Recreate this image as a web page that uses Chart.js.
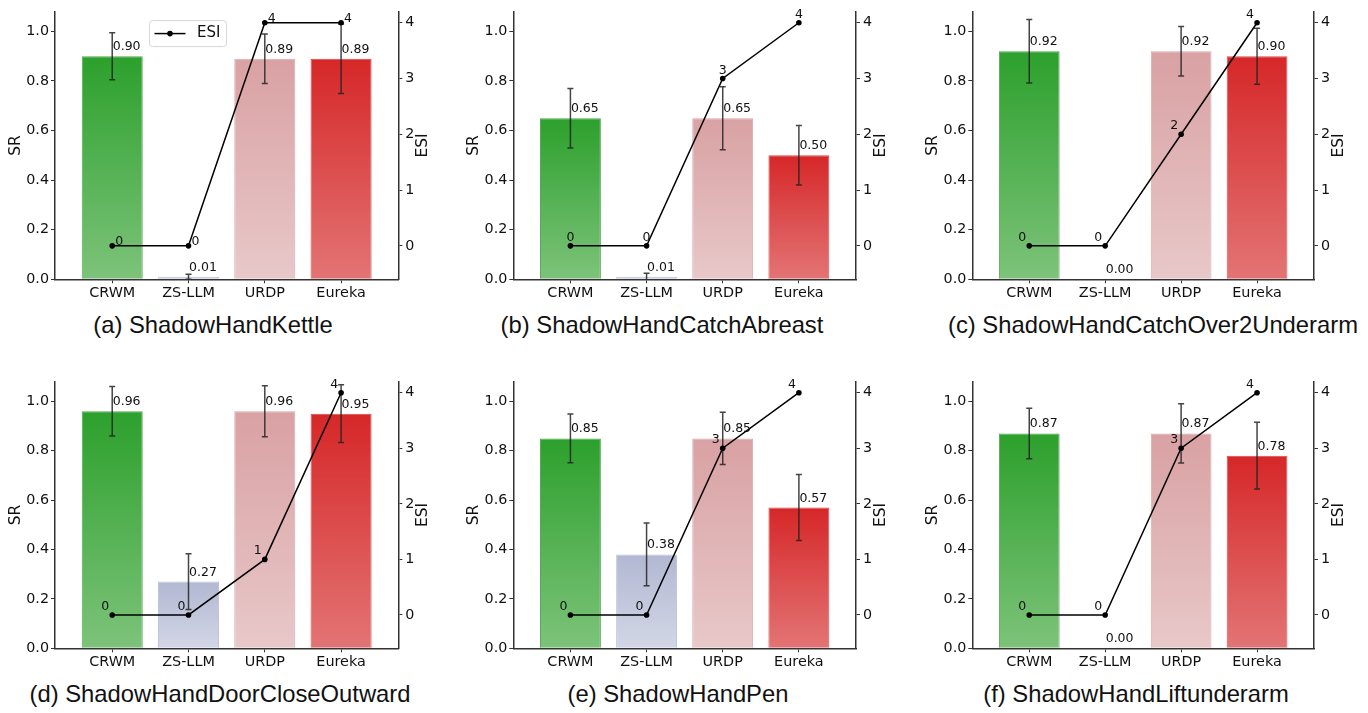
<!DOCTYPE html>
<html>
<head>
<meta charset="utf-8">
<script src="https://cdn.jsdelivr.net/npm/chart.js@4.4.1/dist/chart.umd.min.js"></script>
<style>
  html, body { margin: 0; padding: 0; background: #fff; }
  body { width: 1368px; height: 713px; position: relative; overflow: hidden; }
  canvas { position: absolute; }
  .caption {
    position: absolute;
    font-family: "Liberation Sans", Arial, sans-serif;
    font-size: 23.8px;
    line-height: 24px;
    color: #111;
    white-space: nowrap;
    transform: translateX(-50%);
  }
</style>
</head>
<body>
<script>
// ---- data ----
const methods = ["CRWM", "ZS-LLM", "URDP", "Eureka"];
const taskTitles = [
  "(a) ShadowHandKettle",
  "(b) ShadowHandCatchAbreast",
  "(c) ShadowHandCatchOver2Underarm",
  "(d) ShadowHandDoorCloseOutward",
  "(e) ShadowHandPen",
  "(f) ShadowHandLiftunderarm",
];
const srValues = [
  [0.90, 0.01, 0.89, 0.89],
  [0.65, 0.01, 0.65, 0.50],
  [0.92, 0.00, 0.92, 0.90],
  [0.96, 0.27, 0.96, 0.95],
  [0.85, 0.38, 0.85, 0.57],
  [0.87, 0.00, 0.87, 0.78],
];
const srErrors = [
  [0.095, 0.01, 0.10, 0.14],
  [0.12, 0.014, 0.127, 0.12],
  [0.128, 0, 0.10, 0.113],
  [0.10, 0.113, 0.103, 0.117],
  [0.099, 0.127, 0.106, 0.134],
  [0.102, 0, 0.12, 0.135],
];
const esiValues = [
  [0, 0, 4, 4],
  [0, 0, 3, 4],
  [0, 0, 2, 4],
  [0, 0, 1, 4],
  [0, 0, 3, 4],
  [0, 0, 3, 4],
];
const srTicks = [0, 0.2, 0.4, 0.6, 0.8, 1.0];
const esiTicks = [0, 1, 2, 3, 4];

// ---- styles / layout ----
const barTopColors = ["rgb(44,160,44)", "rgb(178,184,210)", "rgb(217,161,163)", "rgb(214,39,40)"];
const barBottomColors = ["rgb(125,195,122)", "rgb(210,214,230)", "rgb(232,200,201)", "rgb(227,116,116)"];
const barEdgeColors = ["rgba(40,140,40,0.8)", "rgba(150,156,190,0.6)", "rgba(200,130,132,0.7)", "rgba(200,30,30,0.8)"];
const esiLabelAlign = ["left", "center", "right", "right", "right", "right"];

const colLeft = [55, 513.3, 972.3];
const colRight = [398.3, 856, 1314];
const rowTop = [9, 378.3];
const rowBottom = [279.3, 648.3];
const captionX = [213, 662, 1153, 220, 678, 1136];
const captionY = [325, 694];

const spineColor = "#333";
Chart.defaults.font.family = "'DejaVu Sans', sans-serif";
Chart.defaults.font.size = 14.3;
Chart.defaults.color = "#111";

function barGradient(p) {
  return (context) => {
    const i = context.dataIndex;
    const chart = context.chart;
    if (!chart.chartArea || i === undefined) return barTopColors[0];
    const ys = chart.scales.y;
    const yBot = ys.getPixelForValue(0);
    let yTop = ys.getPixelForValue(srValues[p][i]);
    if (yTop > yBot - 1) yTop = yBot - 1;
    const g = chart.ctx.createLinearGradient(0, yTop, 0, yBot);
    g.addColorStop(0, barTopColors[i]);
    g.addColorStop(1, barBottomColors[i]);
    return g;
  };
}

const panelDecor = {
  id: "panelDecor",
  afterDatasetDraw(chart, args, opts) {
    if (args.index !== 0) return;
    const p = opts.panel;
    const ctx = chart.ctx;
    const xs = chart.scales.x;
    const ys = chart.scales.y;
    const area = chart.chartArea;

    // error bars
    ctx.save();
    ctx.beginPath();
    ctx.rect(area.left, area.top, area.right - area.left, area.bottom - area.top);
    ctx.clip();
    ctx.strokeStyle = "rgba(35,35,35,0.85)";
    ctx.lineWidth = 1.5;
    methods.forEach((m, i) => {
      const err = srErrors[p][i];
      if (!err) return;
      const x = xs.getPixelForValue(i);
      const yTop = ys.getPixelForValue(srValues[p][i] + err);
      const yBot = ys.getPixelForValue(srValues[p][i] - err);
      ctx.beginPath();
      ctx.moveTo(x, yTop); ctx.lineTo(x, yBot);
      ctx.moveTo(x - 3, yTop); ctx.lineTo(x + 3, yTop);
      ctx.moveTo(x - 3, yBot); ctx.lineTo(x + 3, yBot);
      ctx.stroke();
    });
    ctx.restore();

    // bar value labels
    ctx.save();
    ctx.font = "12.5px 'DejaVu Sans'";
    ctx.fillStyle = "#111";
    ctx.textAlign = "left";
    ctx.textBaseline = "alphabetic";
    methods.forEach((m, i) => {
      const x = xs.getPixelForValue(i) + 0.5;
      const y = ys.getPixelForValue(srValues[p][i]) - 6;
      ctx.fillText(srValues[p][i].toFixed(2), x, y);
    });
    ctx.restore();
  },
  afterDatasetsDraw(chart, args, opts) {
    const p = opts.panel;
    const ctx = chart.ctx;
    const xs = chart.scales.x;
    const y1 = chart.scales.y1;
    const area = chart.chartArea;
    const align = esiLabelAlign[p];

    // ESI point labels
    ctx.save();
    ctx.font = "12.5px 'DejaVu Sans'";
    ctx.fillStyle = "#111";
    ctx.textBaseline = "alphabetic";
    ctx.textAlign = align;
    esiValues[p].forEach((v, i) => {
      const px = xs.getPixelForValue(i);
      const py = y1.getPixelForValue(v);
      let x = px, y = py - 5;
      if (align === "left") { x = px + 3; y = py - 0.5; }
      else if (align === "right") { x = px - 3; }
      ctx.fillText(String(v), x, y);
    });
    ctx.restore();

    // legend (first panel only)
    if (opts.legend) {
      const lx = area.left + 94, ly = area.top + 8.5, lw = 77, lh = 26;
      ctx.save();
      ctx.fillStyle = "rgba(255,255,255,0.85)";
      ctx.strokeStyle = "#d6d6d6";
      ctx.lineWidth = 1;
      ctx.beginPath();
      ctx.roundRect(lx + 0.5, ly + 0.5, lw, lh, 3);
      ctx.fill();
      ctx.stroke();
      const my = ly + lh / 2 + 0.5;
      ctx.strokeStyle = "#000";
      ctx.lineWidth = 1.5;
      ctx.beginPath();
      ctx.moveTo(lx + 5.5, my); ctx.lineTo(lx + 36.5, my);
      ctx.stroke();
      ctx.fillStyle = "#000";
      ctx.beginPath();
      ctx.arc(lx + 21, my, 2.8, 0, Math.PI * 2);
      ctx.fill();
      ctx.font = "15px 'DejaVu Sans'";
      ctx.fillStyle = "#111";
      ctx.textAlign = "left";
      ctx.textBaseline = "middle";
      ctx.fillText("ESI", lx + 48, my);
      ctx.restore();
    }
  },
  afterDraw(chart, args, opts) {
    const ctx = chart.ctx;
    const area = chart.chartArea;
    const midY = (area.top + area.bottom) / 2;
    ctx.save();
    ctx.font = "15.5px 'DejaVu Sans'";
    ctx.fillStyle = "#111";
    ctx.textAlign = "center";
    ctx.textBaseline = "middle";
    ctx.translate(area.left - 39, midY);
    ctx.rotate(-Math.PI / 2);
    ctx.fillText("SR", 0, 0);
    ctx.restore();
    ctx.save();
    ctx.font = "15.5px 'DejaVu Sans'";
    ctx.fillStyle = "#111";
    ctx.textAlign = "center";
    ctx.textBaseline = "middle";
    ctx.translate(area.right + 25, midY);
    ctx.rotate(-Math.PI / 2);
    ctx.fillText("ESI", 0, 0);
    ctx.restore();
  },
};
Chart.register(panelDecor);

function axisGrid() {
  return { display: true, drawOnChartArea: false, drawTicks: true, tickLength: 4, color: spineColor, lineWidth: 1, offset: false };
}
function axisBorder() {
  return { display: true, color: spineColor, width: 1.5 };
}

for (let p = 0; p < 6; p++) {
  const col = p % 3;
  const row = Math.floor(p / 3);
  const canvasLeft = col * 456;
  const canvasTop = row * 370;
  const plotTop = p === 0 ? 3.3 : rowTop[row];

  const canvas = document.createElement("canvas");
  canvas.width = 456;
  canvas.height = 300;
  canvas.style.left = canvasLeft + "px";
  canvas.style.top = canvasTop + "px";
  document.body.appendChild(canvas);

  const caption = document.createElement("div");
  caption.className = "caption";
  caption.textContent = taskTitles[p];
  caption.style.left = captionX[p] + "px";
  caption.style.top = (captionY[row] - 12) + "px";
  document.body.appendChild(caption);

  new Chart(canvas, {
    data: {
      datasets: [
        {
          type: "bar",
          label: "SR",
          data: methods.map((m, i) => ({ x: i, y: srValues[p][i] })),
          backgroundColor: barGradient(p),
          borderColor: barEdgeColors,
          borderWidth: { left: 1, right: 1, top: 1, bottom: 0 },
          borderSkipped: "start",
          categoryPercentage: 1,
          barPercentage: 0.8,
          yAxisID: "y",
          order: 1,
        },
        {
          type: "line",
          label: "ESI",
          data: methods.map((m, i) => ({ x: i, y: esiValues[p][i] })),
          borderColor: "#000",
          backgroundColor: "#000",
          borderWidth: 1.5,
          pointRadius: 2.8,
          pointBorderWidth: 0,
          tension: 0,
          yAxisID: "y1",
          order: 0,
          clip: false,
        },
      ],
    },
    options: {
      responsive: false,
      maintainAspectRatio: false,
      animation: false,
      events: [],
      layout: { padding: { top: plotTop - canvasTop, left: 0, right: 0, bottom: 0 } },
      plugins: {
        legend: { display: false },
        tooltip: { enabled: false },
        panelDecor: { panel: p, legend: p === 0 },
      },
      scales: {
        x: {
          type: "linear",
          offset: false,
          min: -0.75,
          max: 3.75,
          afterBuildTicks: (axis) => { axis.ticks = methods.map((m, i) => ({ value: i })); },
          afterFit: (axis) => { axis.height = canvasTop + 300 - rowBottom[row]; },
          ticks: {
            autoSkip: false,
            maxRotation: 0,
            padding: 1,
            font: { size: 14.4 },
            callback: (v) => methods[v],
          },
          grid: axisGrid(),
          border: axisBorder(),
        },
        y: {
          type: "linear",
          position: "left",
          min: 0,
          max: 1.08,
          afterBuildTicks: (axis) => { axis.ticks = srTicks.map((v) => ({ value: v })); },
          afterFit: (axis) => { axis.width = colLeft[col] - canvasLeft; },
          ticks: { padding: 2, callback: (v) => v.toFixed(1) },
          grid: axisGrid(),
          border: axisBorder(),
        },
        y1: {
          type: "linear",
          position: "right",
          min: -0.6,
          max: 4.2,
          afterBuildTicks: (axis) => { axis.ticks = esiTicks.map((v) => ({ value: v })); },
          afterFit: (axis) => { axis.width = canvasLeft + 456 - colRight[col]; },
          ticks: { padding: 3, callback: (v) => String(v) },
          grid: axisGrid(),
          border: axisBorder(),
        },
      },
    },
  });
}
</script>
</body>
</html>
